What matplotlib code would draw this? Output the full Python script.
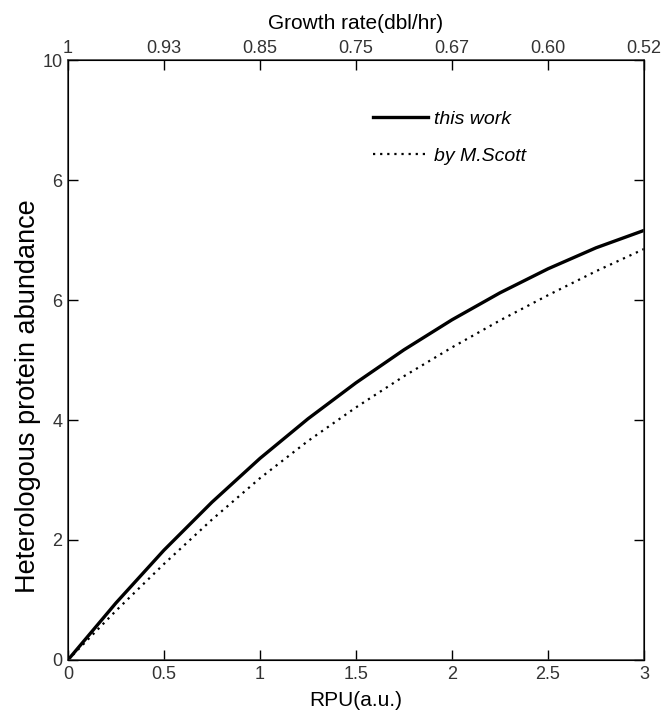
import matplotlib.pyplot as plt
import numpy as np

plt.rcParams['font.family'] = ['Liberation Sans', 'DejaVu Sans']

# RPU values and protein abundance for the two models
rpu = [0, 0.25, 0.5, 0.75, 1.0, 1.25, 1.5, 1.75, 2.0, 2.25, 2.5, 2.75, 3.0]
this_work = [0, 0.95, 1.83, 2.63, 3.36, 4.02, 4.62, 5.17, 5.67, 6.12, 6.52, 6.87, 7.16]
scott = [0, 0.82, 1.6, 2.34, 3.03, 3.65, 4.21, 4.73, 5.21, 5.66, 6.08, 6.48, 6.85]

x_ticks = [0, 0.5, 1, 1.5, 2, 2.5, 3]
x_labels = ['0', '0.5', '1', '1.5', '2', '2.5', '3']
growth_labels = ['1', '0.93', '0.85', '0.75', '0.67', '0.60', '0.52']
y_ticks = [0, 2, 4, 6, 8, 10]
y_labels = ['0', '2', '4', '6', '6', '10']

fig = plt.figure(figsize=(6.66, 7.18), dpi=100)
ax = fig.add_axes([0.102, 0.0808, 0.865, 0.8356])

ax.plot(rpu, this_work, color='black', lw=2.4, label='this work')
ax.plot(rpu, scott, color='black', lw=1.6, dashes=(1, 2.2), label='by M.Scott')

ax.set_xlim(0, 3)
ax.set_ylim(0, 10)
ax.set_xticks(x_ticks)
ax.set_xticklabels(x_labels)
ax.set_yticks(y_ticks)
ax.set_yticklabels(y_labels)
ax.tick_params(direction='in', length=7, width=1, labelsize=13, labelcolor='#333333',
               right=True, pad=4)
for s in ax.spines.values():
    s.set_linewidth(1.1)
    s.set_color('#333333')

ax.set_xlabel('RPU(a.u.)', fontsize=15, labelpad=6)
ax.set_ylabel('Heterologous protein abundance', fontsize=19.5)
ax.yaxis.set_label_coords(-0.047, 0.44)

top = ax.twiny()
top.set_xlim(ax.get_xlim())
top.set_xticks(x_ticks)
top.set_xticklabels(growth_labels)
top.tick_params(direction='in', length=7, width=1, labelsize=13, labelcolor='#333333', pad=2)
top.set_xlabel('Growth rate(dbl/hr)', fontsize=15, labelpad=8)

leg = ax.legend(loc='upper left', bbox_to_anchor=(0.5, 0.945), frameon=False,
                prop={'style': 'italic', 'size': 14}, handlelength=2.8,
                handletextpad=0.3, labelspacing=1.0)

fig.savefig('out.png', dpi=100)
